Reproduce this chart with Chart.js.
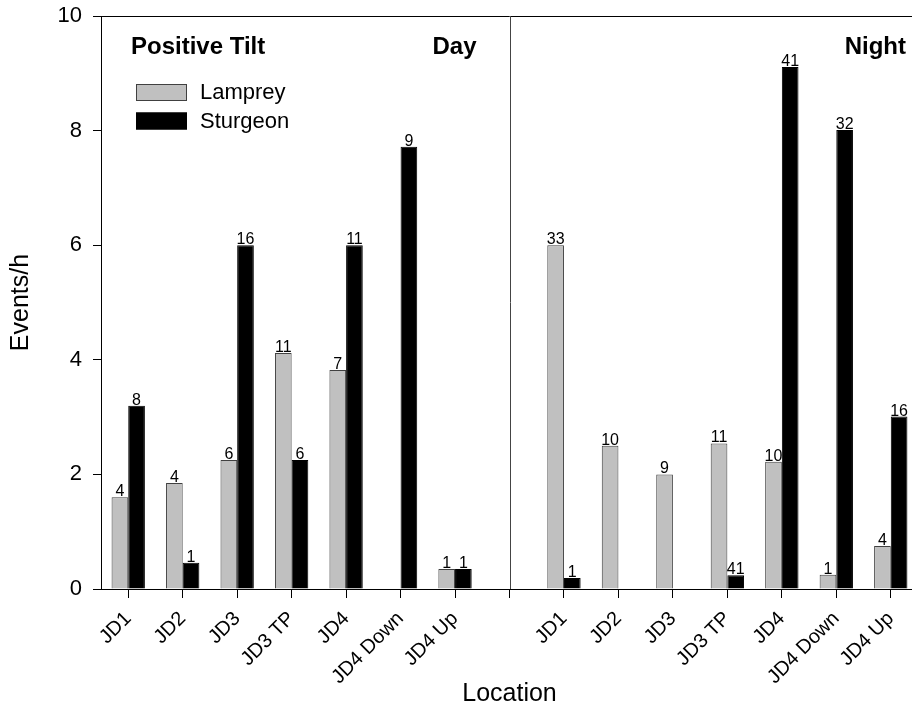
<!DOCTYPE html>
<html>
<head>
<meta charset="utf-8">
<script src="https://cdn.jsdelivr.net/npm/chart.js@4.4.0/dist/chart.umd.min.js"></script>
<style>
html, body { margin:0; padding:0; background:#fff; overflow:hidden; }
canvas { display:block; }
</style>
</head>
<body>
<canvas id="tilt-chart" width="930" height="708"></canvas>
<script>
// locations, repeated for day and night with one empty slot between them
const locations = ["JD1", "JD2", "JD3", "JD3 TP", "JD4", "JD4 Down", "JD4 Up"];
const categories = [...locations, "", ...locations];

// events per hour
const lampreyDay    = [1.60, 1.85, 2.25, 4.12, 3.82, null, 0.35];
const lampreyNight  = [6.00, 2.50, 2.00, 2.54, 2.22, 0.25, 0.75];
const sturgeonDay   = [3.20, 0.46, 6.00, 2.25, 6.00, 7.72, 0.35];
const sturgeonNight = [0.19, null, null, 0.24, 9.11, 8.01, 3.01];

// event counts printed above the bars
const lampreyCountDay    = [4, 4, 6, 11, 7, null, 1];
const lampreyCountNight  = [33, 10, 9, 11, 10, 1, 4];
const sturgeonCountDay   = [8, 1, 16, 6, 11, 9, 1];
const sturgeonCountNight = [1, null, null, 41, 41, 32, 16];

const yTicks = [0, 2, 4, 6, 8, 10];

const FONT = "Arial, 'Liberation Sans', sans-serif";

const lamprey  = [...lampreyDay, null, ...lampreyNight];
const sturgeon = [...sturgeonDay, null, ...sturgeonNight];
const lampreyCounts  = [...lampreyCountDay, null, ...lampreyCountNight];
const sturgeonCounts = [...sturgeonCountDay, null, ...sturgeonCountNight];

const decorations = {
    id: "decorations",
    afterDatasetsDraw(chart) {
        const { ctx, chartArea: a, scales: { x } } = chart;
        ctx.save();

        // top frame line and day/night divider
        ctx.strokeStyle = "#000";
        ctx.lineWidth = 1;
        ctx.beginPath();
        ctx.moveTo(a.left, a.top + 0.5);
        ctx.lineTo(a.right, a.top + 0.5);
        ctx.stroke();
        const xd = Math.round(x.getPixelForValue(7)) + 0.5;
        ctx.strokeStyle = "#444";
        ctx.beginPath();
        ctx.moveTo(xd, a.top);
        ctx.lineTo(xd, a.bottom);
        ctx.stroke();

        // counts above bars
        ctx.fillStyle = "#000";
        ctx.font = "16px " + FONT;
        ctx.textAlign = "center";
        ctx.textBaseline = "alphabetic";
        chart.data.datasets.forEach((ds, di) => {
            const meta = chart.getDatasetMeta(di);
            meta.data.forEach((bar, i) => {
                const c = ds.counts[i];
                if (c == null || ds.data[i] == null) return;
                ctx.fillText(String(c), bar.x, bar.y - 1);
            });
        });

        // panel titles
        ctx.font = "bold 24px " + FONT;
        ctx.textAlign = "left";
        ctx.fillText("Positive Tilt", a.left + 30, a.top + 38);
        ctx.textAlign = "right";
        ctx.fillText("Day", xd - 34, a.top + 38);
        ctx.fillText("Night", a.right - 12, a.top + 38);

        // legend
        ctx.textAlign = "left";
        ctx.textBaseline = "middle";
        ctx.font = "22px " + FONT;
        chart.data.datasets.forEach((ds, di) => {
            const y0 = a.top + 68 + di * 28.5;
            ctx.fillStyle = ds.backgroundColor;
            ctx.fillRect(a.left + 35, y0, 51, 17);
            ctx.strokeStyle = ds.borderColor;
            ctx.strokeRect(a.left + 35.5, y0 + 0.5, 50, 16);
            ctx.fillStyle = "#000";
            ctx.fillText(ds.label, a.left + 99, y0 + 9);
        });

        ctx.restore();
    }
};

new Chart(document.getElementById("tilt-chart"), {
    type: "bar",
    data: {
        labels: categories,
        datasets: [
            {
                label: "Lamprey",
                data: lamprey,
                counts: lampreyCounts,
                backgroundColor: "#c0c0c0",
                borderColor: "#404040",
                borderWidth: 1
            },
            {
                label: "Sturgeon",
                data: sturgeon,
                counts: sturgeonCounts,
                backgroundColor: "#000000",
                borderColor: "#000000",
                borderWidth: 1
            }
        ]
    },
    options: {
        responsive: false,
        animation: false,
        categoryPercentage: 0.612,
        barPercentage: 1,
        layout: { padding: { top: 16, right: 12, left: 0, bottom: 0 } },
        plugins: {
            legend: { display: false },
            tooltip: { enabled: false }
        },
        scales: {
            x: {
                grid: { offset: false, drawOnChartArea: false, drawTicks: true, tickLength: 9, color: "#000" },
                border: { display: true, color: "#000", width: 1 },
                ticks: {
                    autoSkip: false,
                    maxRotation: 45,
                    minRotation: 45,
                    padding: 9,
                    color: "#000",
                    font: { family: FONT, size: 20 }
                },
                title: {
                    display: true,
                    text: "Location",
                    color: "#000",
                    font: { family: FONT, size: 25, lineHeight: 1.1 },
                    padding: { top: 0, bottom: 0 }
                },
                afterFit(scale) {
                    scale.height = 119;
                    scale.paddingLeft = 0;
                    scale.paddingRight = 0;
                }
            },
            y: {
                min: 0,
                max: 10,
                afterBuildTicks(scale) { scale.ticks = yTicks.map(v => ({ value: v })); },
                grid: { drawOnChartArea: false, drawTicks: true, tickLength: 8, color: "#000" },
                border: { display: true, color: "#000", width: 1 },
                ticks: {
                    padding: 11,
                    color: "#000",
                    font: { family: FONT, size: 22 }
                },
                title: {
                    display: true,
                    text: "Events/h",
                    color: "#000",
                    font: { family: FONT, size: 25 },
                    padding: { top: 6, bottom: 0 }
                },
                afterFit(scale) {
                    scale.width = 101;
                    scale.paddingTop = 0;
                    scale.paddingBottom = 0;
                }
            }
        }
    },
    plugins: [decorations]
});
</script>
</body>
</html>
